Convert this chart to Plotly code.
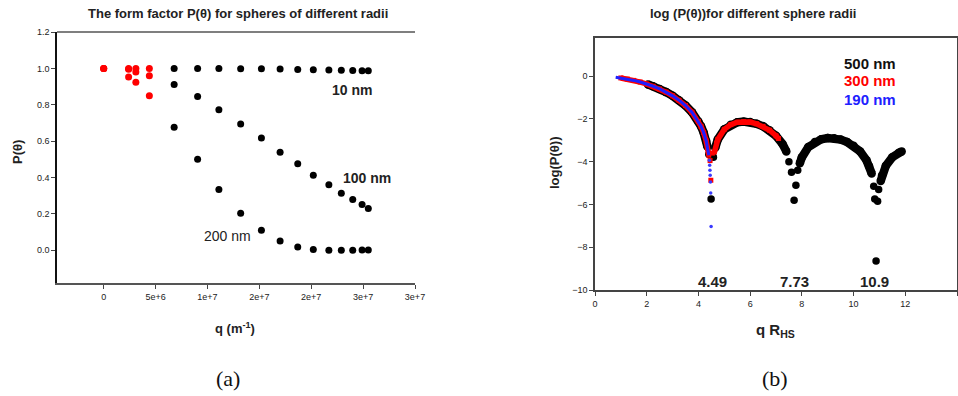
import plotly.graph_objects as go

# ---------------- Panel (a): P(theta) vs q ----------------
q_low = [0, 2.4e6, 3.1e6, 4.4e6]
p10_low = [1.0, 1.0, 1.0, 1.0]
p100_low = [1.0, 0.995, 0.98, 0.96]
p200_low = [1.0, 0.952, 0.924, 0.85]

q_high = [6.79e6, 9.05e6, 11.1e6, 13.2e6, 15.2e6, 17.0e6, 18.7e6, 20.2e6,
          21.7e6, 22.9e6, 24.0e6, 24.9e6, 25.5e6]
p10_high = [1.0, 1.0, 1.0, 0.998, 0.998, 0.996, 0.994, 0.993, 0.991, 0.99, 0.989, 0.987, 0.987]
p100_high = [0.911, 0.846, 0.772, 0.694, 0.617, 0.539, 0.475, 0.413, 0.36, 0.314, 0.279, 0.252, 0.230]
p200_high = [0.676, 0.500, 0.334, 0.203, 0.110, 0.051, 0.018, 0.004, 0.0, 0.0, 0.0, 0.002, 0.002]

a_xticks = [0, 5e6, 1e7, 1.5e7, 2e7, 2.5e7, 3e7]
a_xticklabels = ["0", "5e+6", "1e+7", "2e+7", "2e+7", "3e+7", "3e+7"]
a_yticks = [0.0, 0.2, 0.4, 0.6, 0.8, 1.0, 1.2]

# ---------------- Panel (b): log(P) vs qR ----------------
# 500 nm: continuous arcs (None separates arcs) + isolated points at minima
r500_x = [2.05, 2.25, 2.5, 2.75, 3.0, 3.25, 3.5, 3.75, 4.0, 4.1, 4.2, 4.3, 4.35, None,
          4.65, 4.75, 5.0, 5.25, 5.5, 5.75, 6.0, 6.25, 6.5, 6.75, 7.0, 7.25, 7.4, None,
          7.92, 8.0, 8.25, 8.5, 8.75, 9.0, 9.25, 9.5, 9.75, 10.0, 10.25, 10.5, 10.6, 10.7, None,
          11.05, 11.1, 11.25, 11.5, 11.75, 11.86]
r500_y = [-0.390, -0.477, -0.603, -0.750, -0.923, -1.128, -1.377, -1.692, -2.120, -2.348, -2.636, -3.033, -3.308, None,
          -3.35, -2.96, -2.49, -2.27, -2.16, -2.13, -2.15, -2.23, -2.35, -2.53, -2.79, -3.17, -3.52, None,
          -4.08, -3.80, -3.32, -3.08, -2.95, -2.90, -2.91, -2.97, -3.08, -3.26, -3.52, -3.94, -4.20, -4.55, None,
          -4.90, -4.65, -4.19, -3.79, -3.58, -3.52]
r500_dip_x = [4.40, 4.49, 4.58, 7.50, 7.60, 7.70, 7.77, 7.84, 10.78, 10.82, 10.87, 10.93, 10.97]
r500_dip_y = [-3.65, -5.75, -3.80, -4.00, -4.50, -5.80, -5.10, -4.40, -5.15, -5.75, -8.65, -5.85, -5.30]

r300_x = [1.0, 1.25, 1.5, 1.75, 2.0, 2.25, 2.5, 2.75, 3.0, 3.25, 3.5, 3.75, 4.0, 4.1, 4.2, 4.3, 4.4, None,
          4.62, 4.7, 4.75, 5.0, 5.25, 5.5, 5.75, 6.0, 6.25, 6.5, 6.75, 7.0, 7.1]
r300_y = [-0.088, -0.139, -0.202, -0.279, -0.370, -0.477, -0.603, -0.750, -0.923, -1.128, -1.377, -1.692,
          -2.120, -2.348, -2.636, -3.033, -3.701, None,
          -3.55, -3.13, -2.96, -2.49, -2.27, -2.16, -2.13, -2.15, -2.23, -2.35, -2.53, -2.79, -2.92]
r300_dip_x = [4.45, 4.48, 4.54]
r300_dip_y = [-3.95, -4.87, -3.60]

r190_x = [0.8, 1.0, 1.25, 1.5, 1.75, 2.0, 2.25, 2.5, 2.75, 3.0, 3.25, 3.5, 3.75, 4.0, 4.1, 4.2, 4.3, 4.4]
r190_y = [-0.056, -0.088, -0.139, -0.202, -0.279, -0.370, -0.477, -0.603, -0.750, -0.923, -1.128, -1.377,
          -1.692, -2.120, -2.348, -2.636, -3.033, -3.701]
r190_dip_x = [4.425, 4.435, 4.445, 4.455, 4.465, 4.475, 4.49]
r190_dip_y = [-3.93, -4.17, -4.40, -4.64, -4.95, -5.46, -7.03]

b_xticks = [0, 2, 4, 6, 8, 10, 12, 14]
b_yticks = [0, -2, -4, -6, -8, -10]
zero_labels = ["4.49", "7.73", "10.9"]
zero_pos = [4.55, 7.70, 10.79]

FONT = "Liberation Sans, Arial, sans-serif"
W, H = 958, 396

fig = go.Figure()

# panel (a)
for ys in (p10_low, p100_low, p200_low):
    fig.add_trace(go.Scatter(x=q_low, y=ys, mode="markers", xaxis="x", yaxis="y",
                             marker=dict(color="#ff0000", size=7)))
for ys in (p10_high, p100_high, p200_high):
    fig.add_trace(go.Scatter(x=q_high, y=ys, mode="markers", xaxis="x", yaxis="y",
                             marker=dict(color="#000000", size=7)))

# panel (b)
fig.add_trace(go.Scatter(x=r500_x, y=r500_y, mode="lines+markers", xaxis="x2", yaxis="y2",
                         line=dict(color="black", width=8.5), marker=dict(color="black", size=8.5)))
fig.add_trace(go.Scatter(x=r500_dip_x, y=r500_dip_y, mode="markers", xaxis="x2", yaxis="y2",
                         marker=dict(color="black", size=7.5)))
fig.add_trace(go.Scatter(x=r300_x, y=r300_y, mode="lines+markers", xaxis="x2", yaxis="y2",
                         line=dict(color="#ff0000", width=5.5),
                         marker=dict(color="#ff0000", size=5, symbol="square")))
fig.add_trace(go.Scatter(x=r300_dip_x, y=r300_dip_y, mode="markers", xaxis="x2", yaxis="y2",
                         marker=dict(color="#ff0000", size=5, symbol="square")))
fig.add_trace(go.Scatter(x=r190_x, y=r190_y, mode="lines", xaxis="x2", yaxis="y2",
                         line=dict(color="#1f1fff", width=3)))
fig.add_trace(go.Scatter(x=r190_dip_x, y=r190_dip_y, mode="markers", xaxis="x2", yaxis="y2",
                         marker=dict(color="#3a3aff", size=3.5)))

tickfont = dict(family=FONT, size=9, color="#222")
common = dict(showgrid=False, zeroline=False, ticks="outside", ticklen=4, tickwidth=1,
              tickcolor="#444", tickfont=tickfont, showline=True, linewidth=1.5,
              automargin=False)

fig.update_layout(
    width=W, height=H, margin=dict(l=0, r=0, t=0, b=0, autoexpand=False),
    paper_bgcolor="white", plot_bgcolor="white", showlegend=False,
    xaxis=dict(domain=[57 / W, 415 / W], anchor="y", range=[-4.5e6, 3e7],
               tickvals=a_xticks, ticktext=a_xticklabels, linecolor="#555", **common),
    yaxis=dict(domain=[1 - 283 / H, 1 - 32 / H], anchor="x", range=[-0.18, 1.2],
               tickvals=a_yticks, tickformat=".1f", linecolor="#111", **common),
    xaxis2=dict(domain=[595 / W, 957 / W], anchor="y2", range=[0, 14],
                tickvals=b_xticks, mirror=True, linecolor="#444", **common),
    yaxis2=dict(domain=[1 - 290 / H, 1 - 38 / H], anchor="x2", range=[-10, 1.78],
                tickvals=b_yticks, mirror=True, linecolor="#444", **common),
)

# top border line of panel (a)
fig.add_shape(type="line", xref="x domain", yref="y domain", x0=0, x1=1, y0=1, y1=1,
              line=dict(color="#555", width=1.5))

ann = []
def txt(text, x, y, size, color="#222", family=FONT, angle=0, xref="paper", yref="paper"):
    ann.append(dict(text=text, x=x, y=y, xref=xref, yref=yref, showarrow=False,
                    font=dict(family=family, size=size, color=color), textangle=angle,
                    xanchor="center", yanchor="middle"))

txt("<b>The form factor P(θ) for spheres of different radii</b>", 238 / W, 1 - 13 / H, 13)
txt("<b>log (P(θ))for different sphere radii</b>", 753 / W, 1 - 13 / H, 13)
txt("<b>P(θ)</b>", 17 / W, 1 - 152 / H, 13, angle=-90)
txt("<b>q (m<sup>-1</sup>)</b>", 235 / W, 1 - 328 / H, 13)
txt("<b>log(P(θ))</b>", 555 / W, 1 - 163 / H, 13, angle=-90)
txt("<b>q R<sub>HS</sub></b>", 775 / W, 1 - 330 / H, 15)
txt("(a)", 228 / W, 1 - 378 / H, 22, color="#111", family="Liberation Serif, Times New Roman, serif")
txt("(b)", 775 / W, 1 - 378 / H, 22, color="#111", family="Liberation Serif, Times New Roman, serif")

txt("<b>10 nm</b>", 2.39e7, 0.88, 14, xref="x", yref="y")
txt("<b>100 nm</b>", 2.54e7, 0.40, 14, xref="x", yref="y")
txt("200 nm", 1.197e7, 0.077, 14, xref="x", yref="y")

txt("<b>500 nm</b>", 10.64, 0.61, 15, color="#111", xref="x2", yref="y2")
txt("<b>300 nm</b>", 10.64, -0.23, 15, color="#ff0000", xref="x2", yref="y2")
txt("<b>190 nm</b>", 10.64, -1.08, 15, color="#2020ff", xref="x2", yref="y2")
for lab, xp in zip(zero_labels, zero_pos):
    txt("<b>" + lab + "</b>", xp, -9.62, 15, color="#222", xref="x2", yref="y2")

fig.update_layout(annotations=ann)
fig.write_html("out.html")
